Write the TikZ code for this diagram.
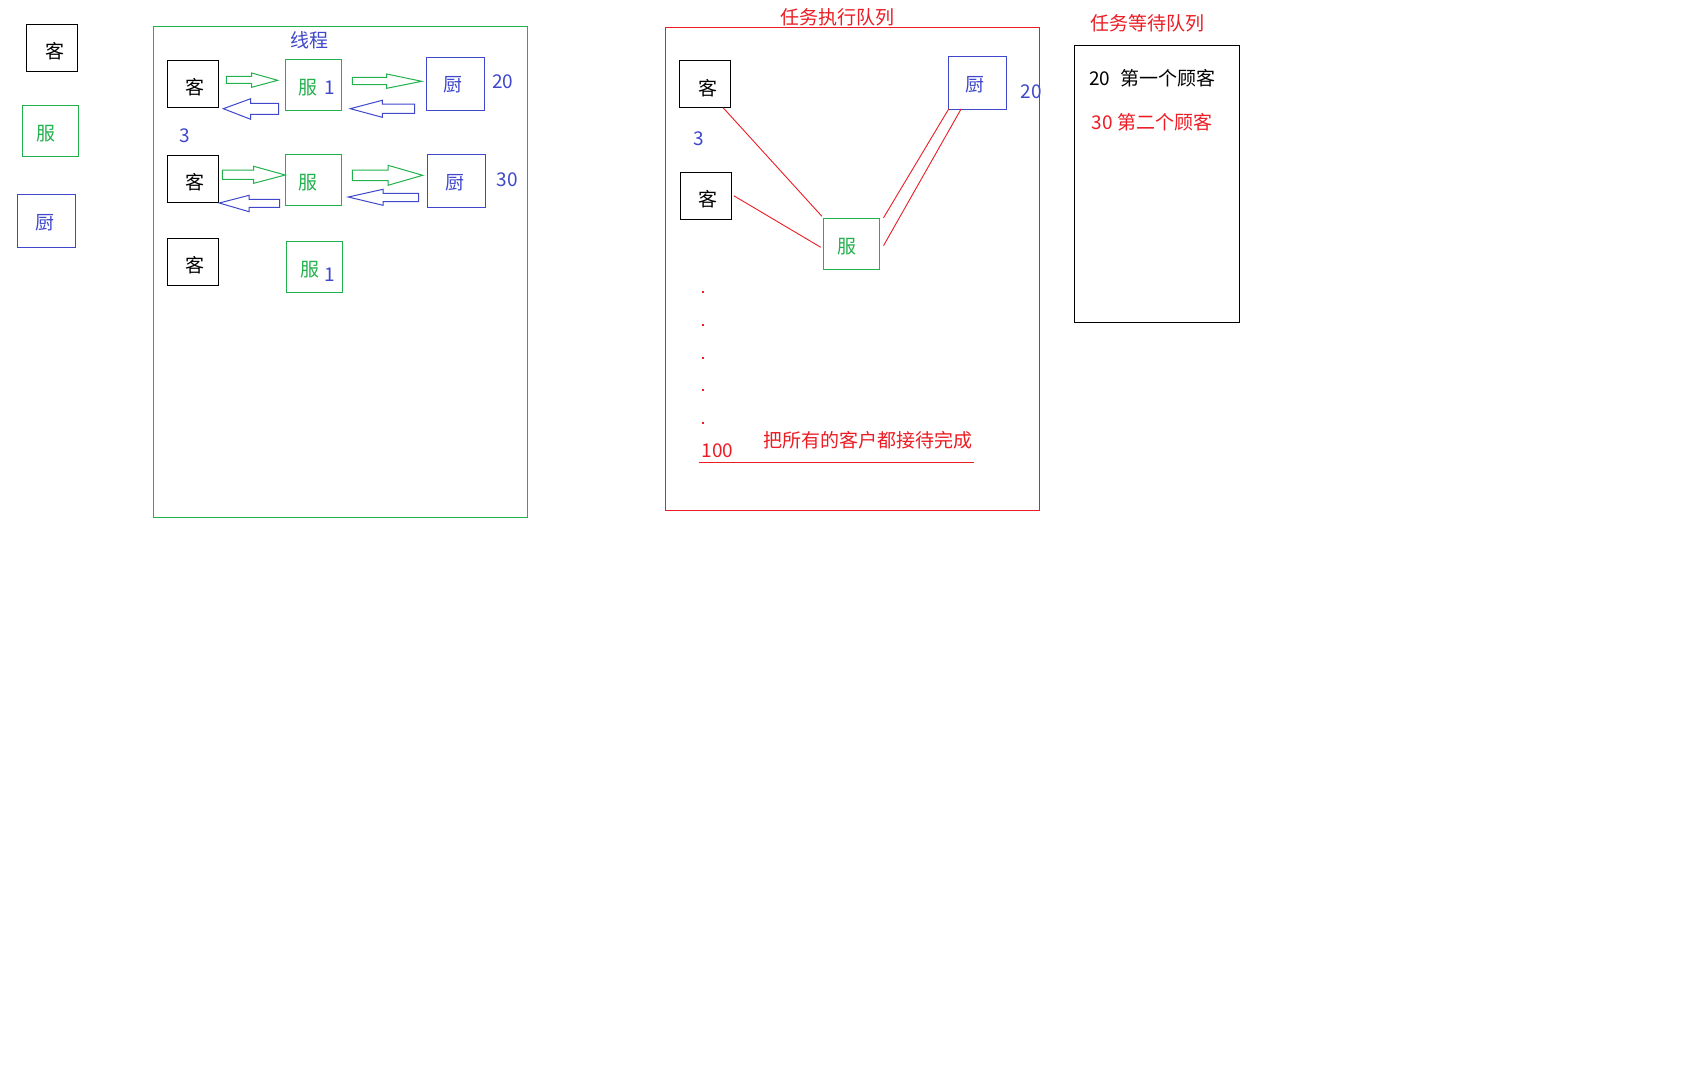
\documentclass[tikz,border=0pt]{standalone}
\usepackage{fontspec}
\setmainfont{Noto Sans CJK SC}
\usetikzlibrary{calc}
\definecolor{pgreen}{RGB}{34,177,76}
\definecolor{pblue}{RGB}{63,72,204}
\definecolor{pred}{RGB}{237,28,36}
\begin{document}
\begin{tikzpicture}[x=1pt,y=-1pt,
  box/.style={draw, line width=1pt, inner sep=0pt, rectangle},
  kbox/.style={box, draw=black, line width=1.2pt},
  gbox/.style={box, draw=pgreen},
  bbox/.style={box, draw=pblue},
  txt/.style={inner sep=0pt, font=\fontsize{19}{19}\selectfont},
  ktxt/.style={txt, text=black},
  gtxt/.style={txt, text=pgreen},
  btxt/.style={txt, text=pblue},
  rtxt/.style={txt, text=pred},
  garrow/.style={draw=pgreen, line width=1pt, line join=miter},
  barrow/.style={draw=pblue, line width=1pt, line join=miter},
  redline/.style={draw=pred, line width=0.9pt},
  frame/.style={line width=1pt}
]
\fill[white] (0,0) rectangle (1698,1090);
\useasboundingbox (0,0) rectangle (1698,1090);

% ---------- legend ----------
\node[kbox, minimum width=51.1pt, minimum height=47.1pt] (lk) at (52,47.9) {};
\node[ktxt] (lkt) at (54.5,51) {客};
\node[gbox, minimum width=55.7pt, minimum height=51pt] (lf) at (50.4,130.9) {};
\node[gtxt] (lft) at (45.7,133.5) {服};
\node[bbox, minimum width=58.2pt, minimum height=52.8pt] (lc) at (46.6,220.7) {};
\node[btxt] (lct) at (44.5,222.3) {厨};

% ---------- thread frame ----------
\draw[frame, draw=pgreen] (153.3,26.4) rectangle (527.4,517.3);
\node[btxt] (thread) at (309,40.5) {线程};

% row 1
\node[kbox, minimum width=50.8pt, minimum height=47pt] (k1) at (192.9,83.9) {};
\node[ktxt] (k1t) at (195.4,87.1) {客};
\node[gbox, minimum width=56.2pt, minimum height=51.1pt] (f1) at (313.5,84.85) {};
\node[gtxt] (f1t) at (308.3,87.7) {服};
\node[btxt] (f1n) at (329.7,87.8) {1};
\node[bbox, minimum width=57.9pt, minimum height=52.9pt] (c1) at (455.35,83.95) {};
\node[btxt] (c1t) at (453.4,85) {厨};
\node[btxt] (n20a) at (502.9,82.1) {20};

\draw[garrow] (226.3,76.3) -- (251.7,76.3) -- (251.7,73) -- (277.7,80.3) -- (251.7,87.3) -- (251.7,83.3) -- (226.3,83.3) -- cycle;
\draw[barrow] (223.3,108.7) -- (250.7,98.7) -- (250.7,103.3) -- (278.7,103.3) -- (278.7,114.3) -- (250.7,114.3) -- (250.7,119.3) -- cycle;
\draw[garrow] (352.3,77.3) -- (386.7,77.3) -- (386.7,74) -- (421.7,81.3) -- (386.7,88.3) -- (386.7,84.7) -- (352.3,84.7) -- cycle;
\draw[barrow] (350.3,108.7) -- (382.3,100.3) -- (382.3,104) -- (414.7,104) -- (414.7,113.3) -- (382.3,113.3) -- (382.3,117.3) -- cycle;

\node[btxt] (n3a) at (184.5,136) {3};

% row 2
\node[kbox, minimum width=50.8pt, minimum height=47.1pt] (k2) at (192.9,178.95) {};
\node[ktxt] (k2t) at (195.4,182.5) {客};
\node[gbox, minimum width=56.2pt, minimum height=51pt] (f2) at (313.5,179.85) {};
\node[gtxt] (f2t) at (308.3,182.7) {服};
\node[bbox, minimum width=58pt, minimum height=53pt] (c2) at (456.4,180.8) {};
\node[btxt] (c2t) at (454.7,182.9) {厨};
\node[btxt] (n30a) at (507,180.2) {30};

\draw[garrow] (222.3,170) -- (253.7,170) -- (253.7,166.3) -- (285.3,175) -- (253.7,183.3) -- (253.7,179.3) -- (222.3,179.3) -- cycle;
\draw[barrow] (219.3,203) -- (249,195.3) -- (249,199.3) -- (279.7,199.3) -- (279.7,207.3) -- (249,207.3) -- (249,211.7) -- cycle;
\draw[garrow] (352.3,170) -- (388,170) -- (388,165.3) -- (422.7,175.3) -- (388,185.3) -- (388,180.7) -- (352.3,180.7) -- cycle;
\draw[barrow] (348.3,197) -- (383,189.3) -- (383,193.3) -- (418.7,193.3) -- (418.7,201.7) -- (383,201.7) -- (383,205.3) -- cycle;

% row 3
\node[kbox, minimum width=50.8pt, minimum height=47.2pt] (k3) at (192.9,261.8) {};
\node[ktxt] (k3t) at (195.4,265.2) {客};
\node[gbox, minimum width=56.1pt, minimum height=51.1pt] (f3) at (314.45,266.95) {};
\node[gtxt] (f3t) at (310,269.6) {服};
\node[btxt] (f3n) at (329.5,274.8) {1};

% ---------- execution queue ----------
\draw[frame, draw=pred] (665.5,27.5) rectangle (1039.3,510.3);
\node[rtxt] (execq) at (837.3,17.2) {任务执行队列};

\node[kbox, minimum width=51.4pt, minimum height=47pt] (rk1) at (705,83.8) {};
\node[ktxt] (rk1t) at (707.5,87.7) {客};
\node[btxt] (n3b) at (698.3,138.3) {3};
\node[kbox, minimum width=51.4pt, minimum height=47pt] (rk2) at (706,195.8) {};
\node[ktxt] (rk2t) at (708.3,199.5) {客};
\node[gbox, minimum width=56pt, minimum height=51pt] (rf) at (851.3,243.8) {};
\node[gtxt] (rft) at (847.2,247) {服};
\node[bbox, minimum width=58.4pt, minimum height=53pt] (rc) at (977.5,82.8) {};
\node[btxt] (rct) at (975.2,84.3) {厨};
\node[btxt] (n20b) at (1031,92) {20};

\draw[redline] ([xshift=-8pt]rk1.south east) -- ([xshift=-1pt,yshift=1.6pt]rf.north west);
\draw[redline] ([xshift=1.6pt]rk2.east) -- ([xshift=-2pt,yshift=-3.5pt]rf.west);
\draw[redline] ([xshift=1pt,yshift=1pt]rc.south west) -- ([xshift=3.7pt]rf.north east);
\draw[redline] ([xshift=13.4pt,yshift=1pt]rc.south west) -- ([xshift=3.7pt,yshift=-1.9pt]rf.east);

\foreach \yy in {291.8,324.6,357.5,390.4,423.2}
  \fill[pred] (702.2,\yy-1) rectangle (704.2,\yy+1);

\node[rtxt] (n100) at (717.5,450.9) {100};
\node[rtxt] (done) at (868.4,440) {把所有的客户都接待完成};
\coordinate (ulA) at (698.7,462);
\coordinate (ulB) at (973.7,462);
\draw[redline] (ulA) -- (ulB);

% ---------- waiting queue ----------
\draw[frame, draw=black, line width=1.2pt] (1074.3,45.3) rectangle (1239.7,322.3);
\node[rtxt] (waitq) at (1147.5,23.2) {任务等待队列};
\node[ktxt, anchor=west] (w1) at (1089,78.5) {20\hspace{10.5pt}第一个顾客};
\node[rtxt, anchor=west] (w2) at (1091.3,122.5) {30\hspace{4.7pt}第二个顾客};
\end{tikzpicture}
\end{document}
